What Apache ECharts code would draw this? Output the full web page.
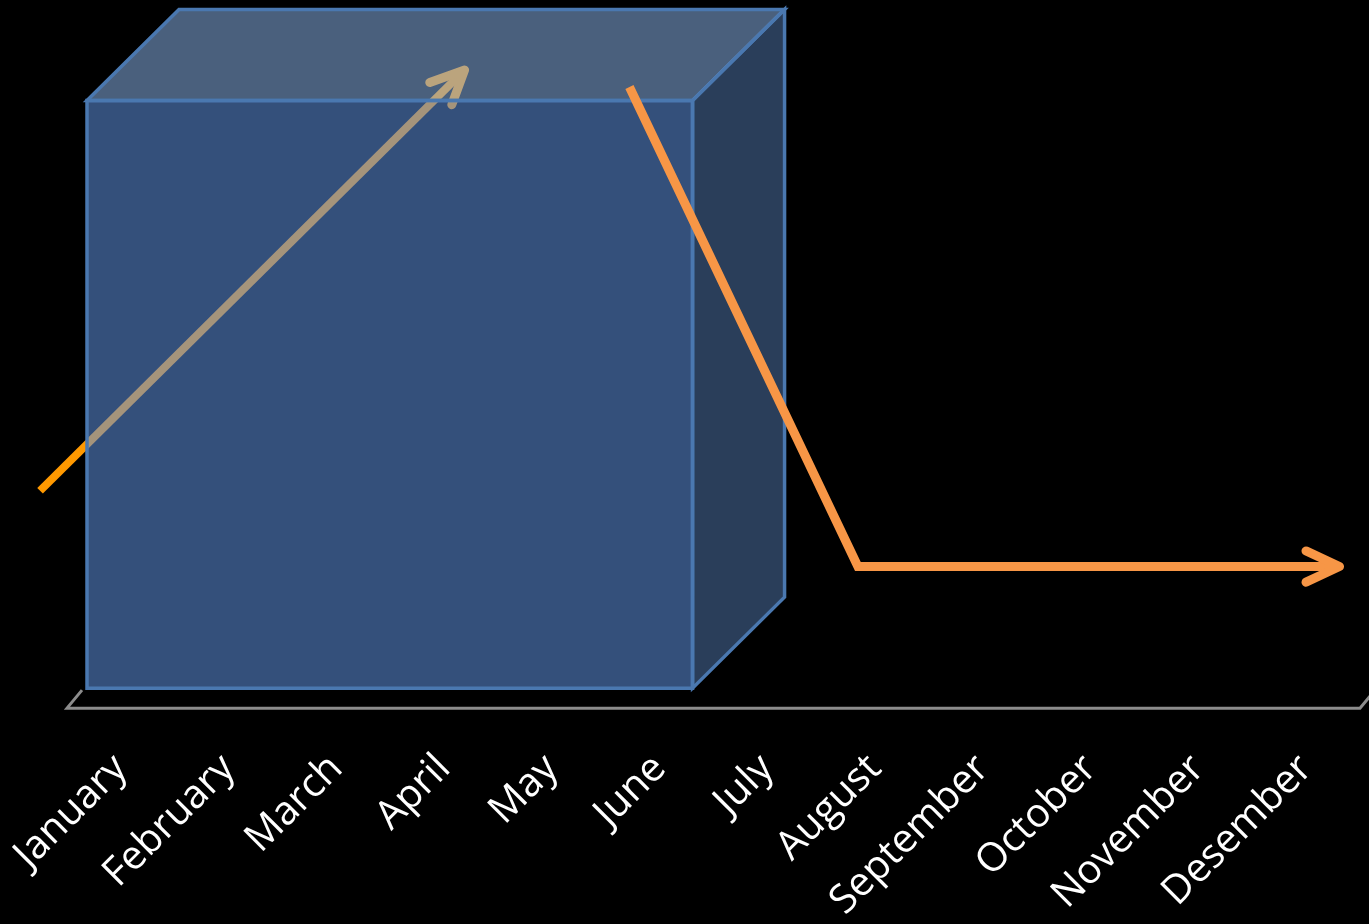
<!DOCTYPE html>
<html>
<head>
<meta charset="utf-8">
<title>Chart</title>
<script src="https://cdn.jsdelivr.net/npm/echarts@6/dist/echarts.min.js"></script>
<style>
  html, body { margin: 0; padding: 0; background: #000; }
  #main { width: 1369px; height: 924px; }
</style>
</head>
<body>
<div id="main"></div>
<script>
// categories on the x axis
var months = ['January', 'February', 'March', 'April', 'May', 'June',
    'July', 'August', 'September', 'October', 'November', 'Desember'];

// the block: [from index, to index, height]
var block = [-0.5, 5.12, 100];

// rising arrow (behind the block) and falling arrow, as [index, value]
var riseArrow = [[-0.75, 37], [3.19, 108.6]];
var fallArrow = [[4.72, 105.7], [6.84, 24.1], [11.31, 24.1]];

var chart = echarts.init(document.getElementById('main'));

function renderBlock(params, api) {
    var a = api.coord([block[0], 0]);
    var b = api.coord([block[1], block[2]]);
    var sx = 20, sy = -20;      // block sits a little back from the floor edge
    var dx = 92, dy = -91;      // depth of the block
    var x0 = a[0] + sx, x1 = b[0] + sx;
    var yb = a[1] + sy, yt = b[1] + sy;
    var edge = { stroke: '#4a78b0', lineWidth: 3.5, lineJoin: 'miter' };
    return {
        type: 'group',
        children: [{
            type: 'polygon',
            shape: { points: [[x1, yt], [x1 + dx, yt + dy], [x1 + dx, yb + dy], [x1, yb]] },
            style: Object.assign({ fill: 'rgba(76,112,162,0.555)' }, edge)
        }, {
            type: 'polygon',
            shape: { points: [[x0, yt], [x0 + dx, yt + dy], [x1 + dx, yt + dy], [x1, yt]] },
            style: Object.assign({ fill: 'rgba(133,173,225,0.555)' }, edge)
        }, {
            type: 'rect',
            shape: { x: x0, y: yt, width: x1 - x0, height: yb - yt },
            style: Object.assign({ fill: 'rgba(94,144,220,0.555)' }, edge)
        }]
    };
}

function renderFloor(params, api) {
    var l = api.coord([-0.5, 0]);
    var r = api.coord([11.5, 0]);
    return {
        type: 'polyline',
        shape: { points: [[l[0] + 15, l[1] - 18], l, r, [r[0] + 15, r[1] - 18]] },
        style: { stroke: '#8c8c8c', lineWidth: 3, fill: null }
    };
}

// path plus an open chevron head at its last point
function arrowMaker(path, color, width) {
    return function (params, api) {
        var pts = path.map(function (d) { return api.coord(d); });
        var p = pts[pts.length - 1];
        var q = pts[pts.length - 2];
        var ang = Math.atan2(q[1] - p[1], q[0] - p[0]);
        var len = 37, spread = 25 * Math.PI / 180;
        var arm1 = [p[0] + len * Math.cos(ang + spread), p[1] + len * Math.sin(ang + spread)];
        var arm2 = [p[0] + len * Math.cos(ang - spread), p[1] + len * Math.sin(ang - spread)];
        // stop the shaft a bit short of the tip so it does not poke through
        var end = [p[0] + 4 * Math.cos(ang), p[1] + 4 * Math.sin(ang)];
        pts[pts.length - 1] = end;
        return {
            type: 'group',
            children: [{
                type: 'polyline',
                shape: { points: pts },
                style: { stroke: color, lineWidth: width, lineCap: 'butt', lineJoin: 'miter', fill: null }
            }, {
                type: 'polyline',
                shape: { points: [arm1, p, arm2] },
                style: { stroke: color, lineWidth: 9, lineCap: 'round', lineJoin: 'round', fill: null }
            }]
        };
    };
}

var option = {
    backgroundColor: '#000000',
    animation: false,
    grid: { left: 67, right: 9, top: 3, bottom: 214 },
    xAxis: [{
        type: 'value',
        min: -0.5,
        max: 11.5,
        show: false
    }, {
        type: 'category',
        data: months,
        boundaryGap: true,
        position: 'bottom',
        axisLine: { show: false },
        axisTick: { show: false },
        axisLabel: {
            interval: 0,
            rotate: 45,
            margin: 54,
            color: '#ffffff',
            fontSize: 40,
            fontFamily: 'Open Sans'
        }
    }],
    yAxis: {
        type: 'value',
        min: 0,
        max: 120,
        show: false
    },
    series: [{
        type: 'custom',
        data: [0],
        clip: false,
        z: 1,
        renderItem: arrowMaker(riseArrow, '#ff9900', 8)
    }, {
        type: 'custom',
        data: [0],
        z: 2,
        renderItem: renderBlock
    }, {
        type: 'custom',
        data: [0],
        z: 2,
        renderItem: renderFloor
    }, {
        type: 'custom',
        data: [0],
        clip: false,
        z: 3,
        renderItem: arrowMaker(fallArrow, '#f79646', 9)
    }]
};

chart.setOption(option);
</script>
</body>
</html>
